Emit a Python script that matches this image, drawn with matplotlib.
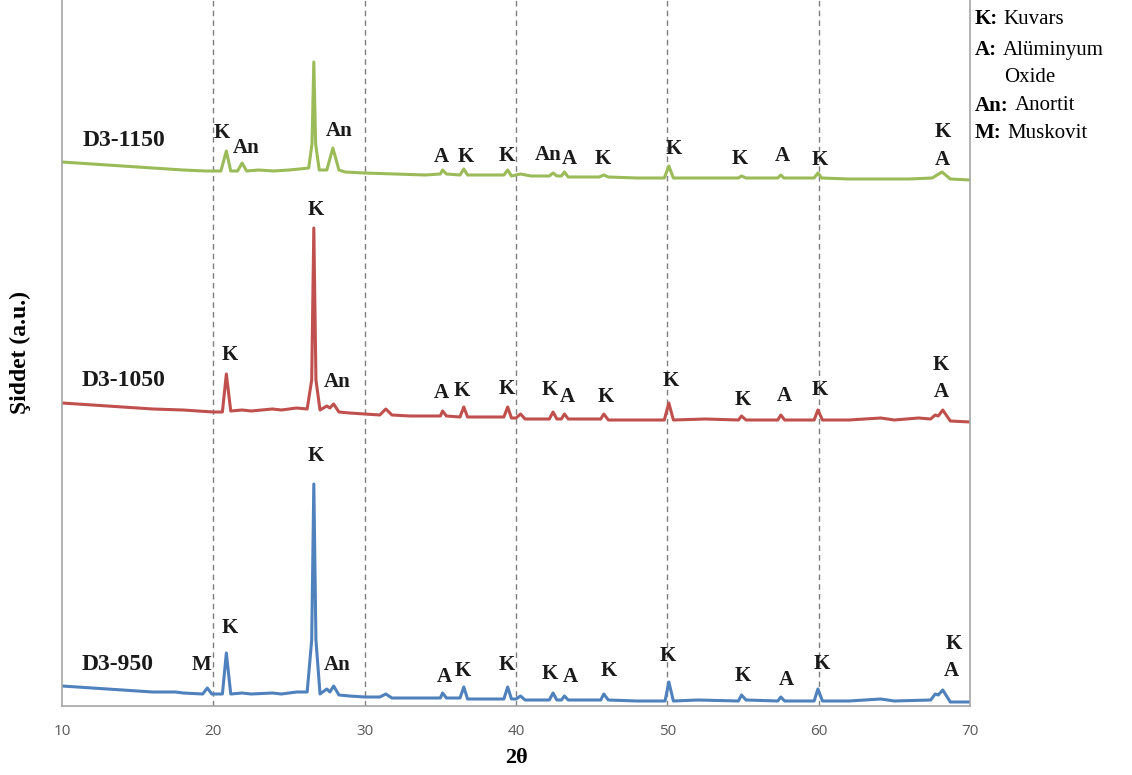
import matplotlib
matplotlib.use("Agg")
import matplotlib.pyplot as plt

# 2theta / intensity (a.u.), one list per sample
x_1150 = [10, 12, 14, 16, 18, 19.5, 20.5, 20.86, 21.15, 21.6, 21.9, 22.2, 23, 24, 25, 25.7,
          26.3, 26.52, 26.64, 26.76, 27.0, 27.5, 27.9, 28.3, 28.7, 30, 32, 34, 35.0, 35.15,
          35.4, 36.3, 36.55, 36.8, 38, 39.2, 39.45, 39.7, 40.3, 41, 42.2, 42.45, 42.7, 43.0,
          43.2, 43.45, 45.5, 45.8, 46.1, 48, 49.8, 50.1, 50.4, 52, 54.7, 54.9, 55.2, 57.3,
          57.5, 57.7, 59.7, 59.95, 60.2, 62, 64, 66, 67.5, 68.15, 68.7, 70]
y_1150 = [544, 542, 540, 538, 536, 535, 535, 555, 535, 535, 543, 535, 536, 535, 536, 537,
          538, 562, 644, 562, 536, 536, 558, 536, 534, 533, 532, 531, 532, 536,
          532, 531, 537, 531, 531, 531, 536, 530, 532, 530, 530, 533, 530, 530,
          534, 529, 529, 531, 529, 528, 528, 540, 528, 528, 528, 530, 528, 528,
          531, 528, 528, 533, 528, 527, 527, 527, 528, 534, 527, 526]

x_1050 = [10, 12, 14, 16, 18, 20, 20.6, 20.86, 21.15, 21.9, 22.5, 23.9, 24.5, 25.5, 26.2,
          26.5, 26.64, 26.78, 27.05, 27.5, 27.7, 27.95, 28.3, 29, 30, 31.0, 31.4, 31.8, 33,
          35.0, 35.15, 35.4, 36.3, 36.55, 36.8, 38.5, 39.2, 39.45, 39.7, 40.0, 40.3, 40.6,
          42.2, 42.45, 42.7, 43.0, 43.2, 43.45, 45.6, 45.8, 46.1, 48, 49.8, 50.1, 50.4,
          52.5, 54.7, 54.9, 55.2, 57.3, 57.5, 57.75, 59.7, 59.95, 60.25, 62, 64.1, 65,
          66.6, 67.4, 67.7, 67.9, 68.2, 68.7, 70]
y_1050 = [303, 301, 299, 297, 296, 294, 294, 332, 295, 296, 295, 297, 296, 298, 297,
          326, 478, 326, 296, 300, 298, 302, 294, 293, 292, 291, 297, 291, 290,
          290, 295, 290, 289, 299, 289, 289, 289, 299, 288, 288, 292, 287,
          287, 294, 287, 287, 292, 287, 287, 292, 286, 286, 286, 303, 286,
          287, 286, 290, 286, 286, 291, 286, 286, 296, 286, 286, 288, 286,
          288, 287, 291, 290, 296, 285, 284]

x_950 = [10, 12, 14, 16, 17.5, 18, 19.3, 19.6, 19.9, 20.6, 20.86, 21.15, 21.9, 22.5, 23.9,
         24.5, 25.5, 26.2, 26.5, 26.64, 26.78, 27.05, 27.5, 27.7, 27.95, 28.3, 29, 30, 31.0,
         31.4, 31.8, 33, 35.0, 35.15, 35.4, 36.3, 36.55, 36.8, 39.2, 39.45, 39.7, 40.0, 40.3,
         40.6, 42.2, 42.45, 42.7, 43.0, 43.2, 43.45, 45.6, 45.8, 46.1, 48, 49.85, 50.1, 50.4,
         52, 54.7, 54.9, 55.2, 57.3, 57.5, 57.75, 59.7, 59.95, 60.25, 62, 64.1, 65, 67.4,
         67.7, 67.9, 68.2, 68.7, 70]
y_950 = [20, 18, 16, 14, 14, 13, 12, 18, 12, 12, 53, 12, 13, 12, 13,
         12, 14, 14, 66, 222, 66, 12, 17, 14, 20, 11, 10, 9, 9,
         12, 8, 8, 8, 13, 8, 8, 19, 7, 7, 19, 7, 7, 10,
         6, 6, 13, 6, 6, 10, 6, 6, 12, 6, 5, 5, 24, 5,
         6, 5, 11, 6, 5, 9, 5, 5, 17, 5, 5, 7, 5, 6,
         12, 11, 16, 4, 4]

# phase labels: text, 2theta, height
lab_1150 = ["K", "An", "An", "A", "K", "K", "An", "A", "K", "K", "K", "A", "K", "K", "A"]
lx_1150 = [20.57, 22.2, 28.3, 35.1, 36.7, 39.4, 42.1, 43.5, 45.75, 50.45, 54.8, 57.6, 60.1, 68.2, 68.2]
ly_1150 = [573, 558, 575, 549, 549, 550, 551, 547, 547, 557, 547, 550, 546, 574, 546]

lab_1050 = ["K", "K", "An", "A", "K", "K", "K", "A", "K", "K", "K", "A", "K", "K", "A"]
lx_1050 = [21.1, 26.8, 28.2, 35.1, 36.4, 39.4, 42.25, 43.4, 45.9, 50.2, 55.0, 57.7, 60.1, 68.1, 68.1]
ly_1050 = [351, 496, 324, 313, 315, 317, 316, 309, 309, 325, 306, 310, 316, 341, 314]

lab_950 = ["M", "K", "K", "An", "A", "K", "K", "K", "A", "K", "K", "K", "A", "K", "K", "A"]
lx_950 = [19.25, 21.1, 26.8, 28.2, 35.25, 36.5, 39.4, 42.25, 43.6, 46.1, 50.05, 55.0, 57.85, 60.2, 68.9, 68.75]
ly_950 = [41, 78, 250, 41, 29, 35, 41, 32, 29, 35, 50, 30, 26, 42, 62, 35]

samples = ["D3-950", "D3-1050", "D3-1150"]
sample_x = [13.7, 14.1, 14.1]
sample_y = [42, 326, 565]

legend_keys = ["K:", "A:", "", "An:", "M:"]
legend_vals = ["Kuvars", "Alüminyum", "Oxide", "Anortit", "Muskovit"]

serif = "Liberation Serif"
green, red, blue = "#9BBB59", "#C0504D", "#4F81BD"

fig = plt.figure(figsize=(11.32, 7.75), dpi=100)
ax = fig.add_axes([62 / 1132, 1 - 706 / 775, 908 / 1132, 706 / 775])

for xx, yy, c in [(x_950, y_950, blue), (x_1050, y_1050, red), (x_1150, y_1150, green)]:
    ax.plot(xx, yy, color=c, lw=2.2, solid_joinstyle="round")

for labs, lx, ly in [(lab_950, lx_950, ly_950), (lab_1050, lx_1050, ly_1050), (lab_1150, lx_1150, ly_1150)]:
    for t, a, b in zip(labs, lx, ly):
        ax.text(a, b, t, ha="center", va="center", fontsize=15, fontweight="bold",
                family=serif, color="#1a1a1a")

for s, a, b in zip(samples, sample_x, sample_y):
    ax.text(a, b, s, ha="center", va="center", fontsize=17, fontweight="bold",
            family=serif, color="#1a1a1a")

ax.set_xlim(10, 70)
ax.set_ylim(0, 706)
ax.set_xticks(range(10, 71, 10))
ax.set_yticks([])
for g in range(20, 61, 10):
    ax.axvline(g, color="#7f7f7f", lw=1, ls=(0, (4, 3)), zorder=0)
ax.tick_params(axis="x", length=0, pad=13, labelsize=11, labelcolor="#595959")
for lbl in ax.get_xticklabels():
    lbl.set_family("Open Sans")
for side in ["left", "bottom", "right"]:
    ax.spines[side].set_color("#a6a6a6")
    ax.spines[side].set_linewidth(1.2)
ax.spines["top"].set_visible(False)

ax.set_xlabel("2θ", fontsize=16, fontweight="bold", family=serif, va="center")
ax.xaxis.set_label_coords(0.5, -52 / 706)
ax.set_ylabel("Şiddet (a.u.)", fontsize=17, fontweight="bold", family=serif, labelpad=22)

rows_y = [19, 50, 77, 106, 133]
for k, v, ry in zip(legend_keys, legend_vals, rows_y):
    yf = 1 - ry / 775
    if k:
        t = fig.text(975 / 1132, yf, k, fontsize=15, fontweight="bold",
                     family=serif, va="center", ha="left")
        ax.annotate(v, xy=(1, 0.5), xycoords=t, xytext=(4, 0), textcoords="offset points",
                    fontsize=15, family=serif, va="center", ha="left", annotation_clip=False)
    else:
        fig.text(1004 / 1132, yf, v, fontsize=15, family=serif, va="center", ha="left")

fig.savefig("out.png", dpi=100)
